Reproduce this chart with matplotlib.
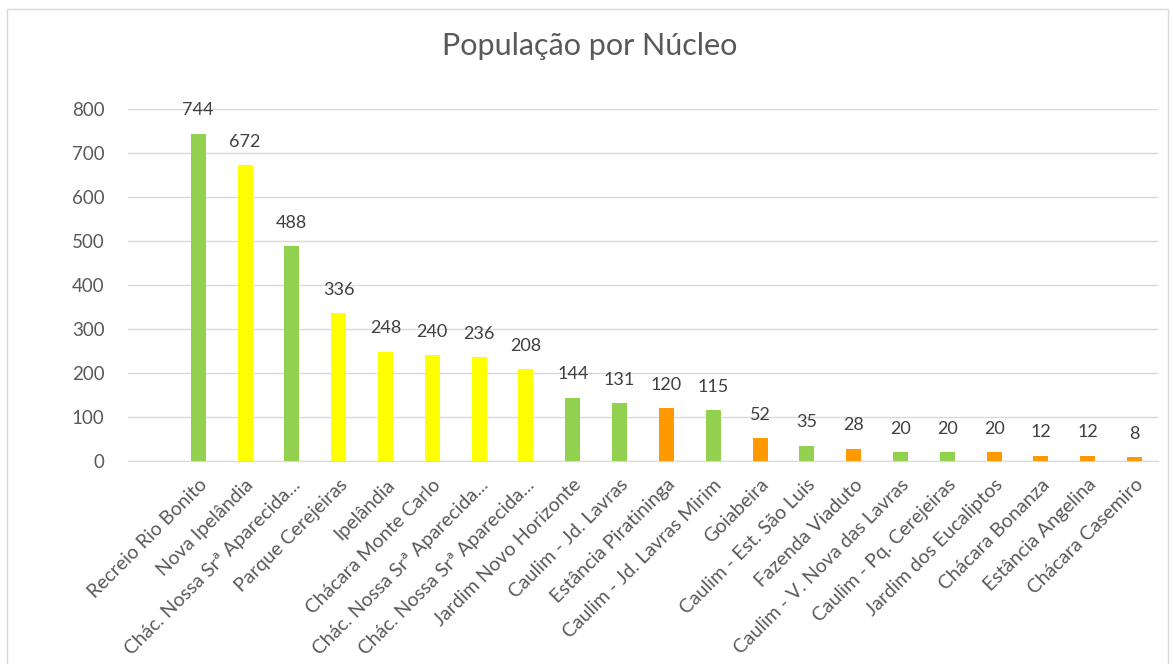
import matplotlib
matplotlib.use("Agg")
import matplotlib.pyplot as plt
from matplotlib.patches import Rectangle
from matplotlib.transforms import ScaledTranslation

categories = [
    "Recreio Rio Bonito", "Nova Ipelândia", "Chác. Nossa Srª Aparecida...",
    "Parque Cerejeiras", "Ipelândia", "Chácara Monte Carlo",
    "Chác. Nossa Srª Aparecida...", "Chác. Nossa Srª Aparecida...",
    "Jardim Novo Horizonte", "Caulim - Jd. Lavras", "Estância Piratininga",
    "Caulim - Jd. Lavras Mirim", "Goiabeira", "Caulim - Est. São Luis",
    "Fazenda Viaduto", "Caulim - V. Nova das Lavras", "Caulim - Pq. Cerejeiras",
    "Jardim dos Eucaliptos", "Chácara Bonanza", "Estância Angelina",
    "Chácara Casemiro",
]
values = [744, 672, 488, 336, 248, 240, 236, 208, 144, 131, 120, 115,
          52, 35, 28, 20, 20, 20, 12, 12, 8]
color_groups = ["g", "y", "g", "y", "y", "y", "y", "y", "g", "g", "o", "g",
                "o", "g", "o", "g", "g", "o", "o", "o", "o"]
palette = {"g": "#92D050", "y": "#FFFF00", "o": "#FF9900"}
yticks = [0, 100, 200, 300, 400, 500, 600, 700, 800]

plt.rcParams['font.family'] = ['Lato', 'DejaVu Sans']

fig = plt.figure(figsize=(11.73, 6.64), dpi=100)
fig.patches.append(Rectangle((7/1173, -0.01), (1168-7)/1173, 1 - 9/664 + 0.01,
                             transform=fig.transFigure, fill=False,
                             edgecolor="#D9D9D9", linewidth=1))
ax = fig.add_axes([128/1173, 1 - 461/664, (1158-128)/1173, (461-109)/664])

x = list(range(len(categories)))
cols = [palette[c] for c in color_groups]
ax.bar(x, values, width=0.32, color=cols, zorder=3)
for xi, v in zip(x, values):
    ax.text(xi, v + 35, str(v), ha="center", va="bottom", fontsize=13,
            color="#404040")

ax.set_xlim(-1.5, len(categories) - 0.5)
ax.set_ylim(0, 800)
ax.set_yticks(yticks)
ax.set_yticklabels([str(t) for t in yticks], fontsize=13.5, color="#595959")
ax.set_xticks(x)
ax.set_xticklabels([])
shift = ScaledTranslation(0, -15/100, fig.dpi_scale_trans)
trans = ax.get_xaxis_transform() + shift
for xi, name in zip(x, categories):
    ax.text(xi, 0, name, transform=trans, rotation=45, ha="right", va="top",
            rotation_mode="anchor", fontsize=14, color="#595959")
ax.tick_params(axis="both", length=0)
ax.tick_params(axis="y", pad=17)
ax.grid(axis="y", color="#D9D9D9", linewidth=1, zorder=0)
for s in ["top", "right", "left"]:
    ax.spines[s].set_visible(False)
ax.spines["bottom"].set_color("#D9D9D9")

fig.text(590/1173, 1 - 46/664, "População por Núcleo", ha="center", va="center",
         fontsize=22, color="#595959")

fig.savefig("out.png", dpi=100)
